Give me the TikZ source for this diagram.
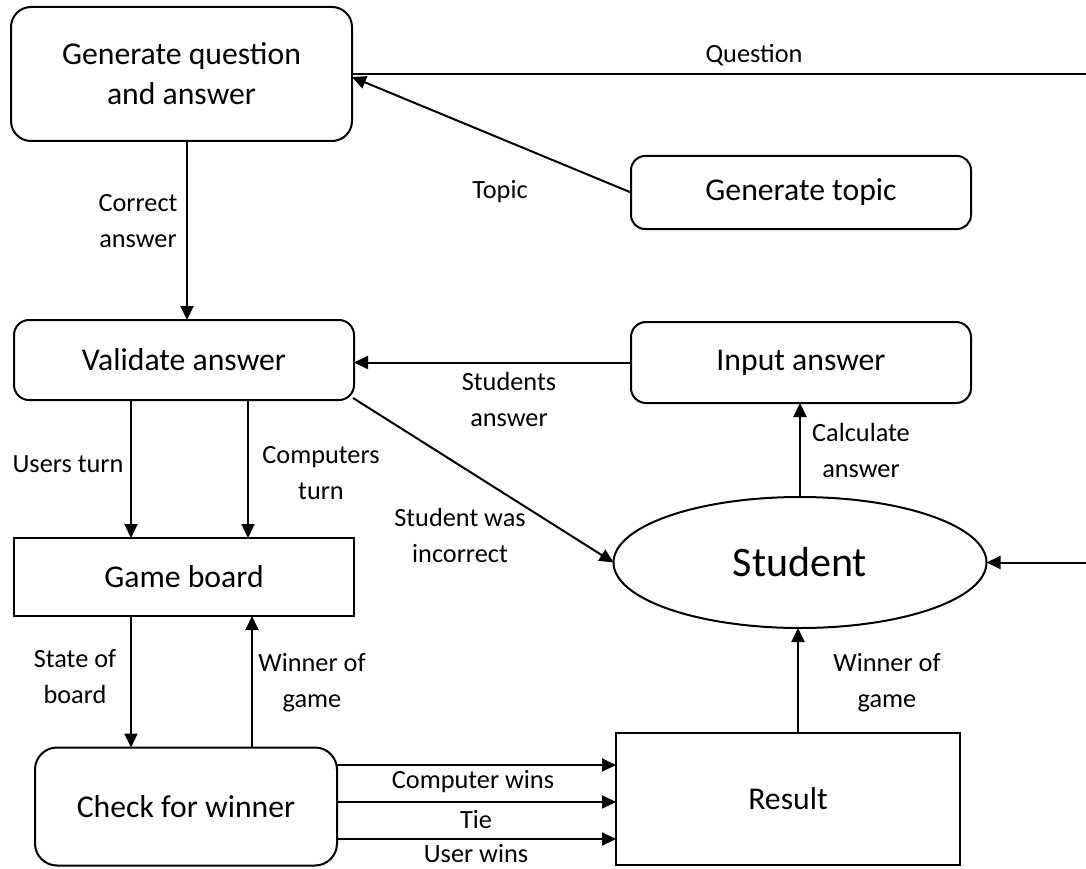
\documentclass[tikz,border=0pt]{standalone}
\usepackage{fontspec}
\setmainfont{Carlito}
\usetikzlibrary{arrows.meta,shapes.geometric}
\tikzset{
  boxfont/.style={font=\fontsize{31.7}{40}\selectfont},
  lblfont/.style={font=\fontsize{26.3}{36}\selectfont},
  proc/.style={draw, line width=2pt, inner sep=0pt, outer sep=0pt, align=center, boxfont},
  rproc/.style={proc, rounded corners=#1},
  lbl/.style={align=center, lblfont, inner sep=0pt},
  arr/.style={line width=2pt, -{Triangle[length=14pt,width=13pt]}},
  ln/.style={line width=2pt}
}
\begin{document}
\begin{tikzpicture}[x=1pt,y=-1pt]
\clip (0,0) rectangle (1086,869);
\fill[white] (0,0) rectangle (1086,869);

% nodes
\node[rproc=20pt, minimum width=341pt, minimum height=134pt] (gq) at (181.5,74) {Generate question\\and answer};
\node[rproc=14pt, minimum width=340pt, minimum height=73pt] (gt) at (801,192.5) {Generate topic};
\node[rproc=15pt, minimum width=340pt, minimum height=80pt] (va) at (184,360) {Validate answer};
\node[rproc=15pt, minimum width=340pt, minimum height=81pt] (ia) at (801,362.5) {Input answer};
\node[proc, minimum width=340pt, minimum height=78pt] (gb) at (184,577) {Game board};
\node[draw, line width=2pt, ellipse, inner sep=0pt, outer sep=0pt, minimum width=373pt, minimum height=131pt, font=\fontsize{42}{50}\selectfont] (st) at (800,562.5) {Student};
\node[rproc=22pt, minimum width=302pt, minimum height=118pt] (cw) at (186,806.5) {Check for winner};
\node[proc, minimum width=344pt, minimum height=132pt] (rs) at (788,799) {Result};

% Question: from generate question, off the right edge, into Student
\draw[arr] (gq.east) -- ++(760,0) |- (st.east);
\node[lbl] (lq) at (754,55) {Question};

% Topic
\draw[arr] (gt.west) -- ([yshift=-3pt]gq.east);
\node[lbl] (lt) at (500,192) {Topic};

% Correct answer
\draw[arr] ([xshift=5.5pt]gq.south) -- ([xshift=5.5pt]gq.south |- va.north);
\node[lbl] (lca) at (138,221) {Correct\\answer};

% Students answer
\draw[arr] (ia.west) -- (ia.west -| va.east);
\node[lbl] (lsa) at (509,399) {Students\\answer};

% Student was incorrect
\draw[arr] ([xshift=-1pt,yshift=2pt]va.south east) -- (st.west);
\node[lbl] (lsi) at (460,535) {Student was\\incorrect};

% turns
\draw[arr] ([xshift=-53pt]va.south) -- ([xshift=-53pt]va.south |- gb.north);
\node[lbl] (lut) at (68,464) {Users turn};
\draw[arr] ([xshift=64pt]va.south) -- ([xshift=64pt]va.south |- gb.north);
\node[lbl] (lct) at (321,473) {Computers\\turn};

% Calculate answer
\draw[arr] (st.north) -- (st.north |- ia.south);
\node[lbl] (lcalc) at (861,450) {Calculate\\answer};

% State of board
\draw[arr] ([xshift=-53pt]gb.south) -- ([xshift=-53pt]gb.south |- cw.north);
\node[lbl] (lsb) at (75,677) {State of\\board};

% Winner of game (to game board)
\draw[arr] ([xshift=66pt]cw.north) -- ([xshift=66pt]cw.north |- gb.south);
\node[lbl] (lwg1) at (312,683) {Winner of\\game};

% Winner of game (to student)
\draw[arr] ([xshift=10pt]rs.north) -- ([xshift=10pt]rs.north |- st.south);
\node[lbl] (lwg2) at (887,683) {Winner of\\game};

% Check for winner -> Result
\draw[arr] ([yshift=41.5pt]cw.east) -- ([yshift=41.5pt]cw.east -| rs.west);
\draw[arr] ([yshift=4.5pt]cw.east) -- ([yshift=4.5pt]cw.east -| rs.west);
\draw[arr] ([yshift=-32.5pt]cw.east) -- ([yshift=-32.5pt]cw.east -| rs.west);
\node[lbl] (lcw) at (473,782) {Computer wins};
\node[lbl] (ltie) at (476,820) {Tie};
\node[lbl] (luw) at (476,854) {User wins};
\end{tikzpicture}
\end{document}
